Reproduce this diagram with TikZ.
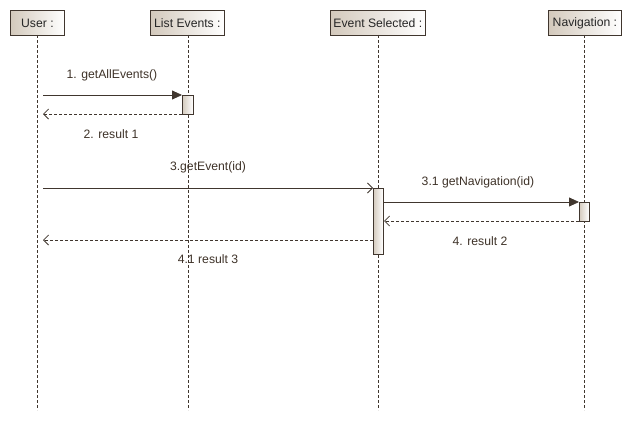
\documentclass[tikz,border=0pt]{standalone}
\usepackage{fontspec}
\setmainfont{Liberation Sans}
\usetikzlibrary{arrows.meta}
\definecolor{edge}{HTML}{40362E}
\definecolor{beige}{HTML}{D3C9BC}
\definecolor{labeltxt}{HTML}{3E3228}
\begin{document}
\begin{tikzpicture}[x=1pt,y=-1pt,
  font=\fontsize{12.2}{14}\selectfont,
  head/.style={draw=edge,line width=0.8pt,left color=beige,right color=white,
    shading angle=90,inner sep=0pt,anchor=north west,text=black!85},
  act/.style={draw=edge,line width=0.8pt,left color=beige,right color=white},
  life/.style={draw=edge,dash pattern=on 3pt off 2pt,line width=0.7pt},
  call/.style={draw=edge,line width=0.8pt,-{Triangle[length=10pt,width=9pt]}},
  async/.style={draw=edge,line width=0.8pt,-{Straight Barb[length=5pt,width=10pt]}},
  reply/.style={draw=edge,line width=0.8pt,dash pattern=on 3pt off 2pt,
    -{Straight Barb[length=5pt,width=10pt]}},
  msg/.style={text=labeltxt}]
\useasboundingbox (0,0) rectangle (631,420);

% participant heads
\node[head,minimum width=54pt,minimum height=25pt] (user) at (10,10) {User :};
\node[head,minimum width=74pt,minimum height=25pt] (list) at (150,10) {List Events :};
\node[head,minimum width=95pt,minimum height=25pt] (sel) at (330,10) {Event Selected :};
\node[head,minimum width=73pt,minimum height=25pt] (nav) at (548,10) {Navigation :};

% lifeline ends
\coordinate (userE) at (37,410);
\coordinate (listE) at (188,410);
\coordinate (selE) at (378,410);
\coordinate (navE) at (584,410);
\draw[life] (37,35) -- (userE);
\draw[life] (188,35) -- (listE);
\draw[life] (378,35) -- (selE);
\draw[life] (584,35) -- (navE);

% activation bars
\draw[act] (182,95) rectangle (193,114);
\draw[act] (373,188) rectangle (383,254);
\draw[act] (579,202) rectangle (589,221);

% message ends
\coordinate (u1) at (43,95);   \coordinate (l1) at (182,95);
\coordinate (l2) at (182,114); \coordinate (u2) at (43,114);
\coordinate (u3) at (43,188);  \coordinate (s3) at (373,188);
\coordinate (s4) at (383,202); \coordinate (n4) at (579,202);
\coordinate (n5) at (579,221); \coordinate (s5) at (384,221);
\coordinate (s6) at (373,240); \coordinate (u6) at (43,240);

% messages
\draw[call] (u1) -- (l1);
\node[msg] (m1) at (112,75) {1. getAllEvents()};
\draw[reply] (l2) -- (u2);
\node[msg] (m2) at (111,134) {2. result 1};
\draw[async] (u3) -- (s3);
\node[msg] (m3) at (208,167) {3.getEvent(id)};
\draw[call] (s4) -- (n4);
\node[msg] (m4) at (478,182) {3.1 getNavigation(id)};
\draw[reply] (n5) -- (s5);
\node[msg] (m5) at (480,241) {4. result 2};
\draw[reply] (s6) -- (u6);
\node[msg] (m6) at (208,259) {4.1 result 3};
\end{tikzpicture}
\end{document}
